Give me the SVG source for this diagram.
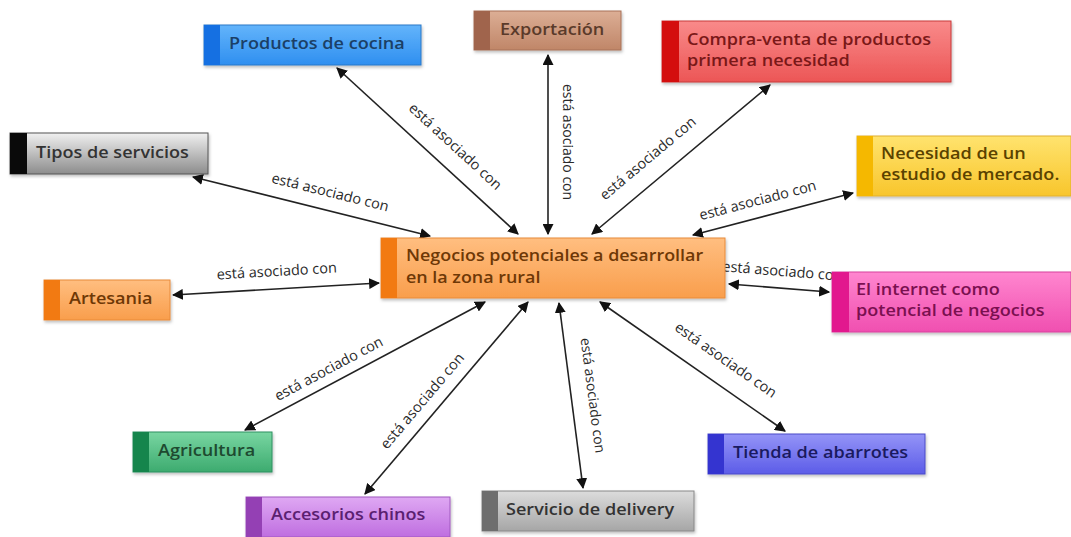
<svg xmlns="http://www.w3.org/2000/svg" width="1071" height="537" viewBox="0 0 1071 537">
  <defs>
    <marker id="arrow" viewBox="0 0 10 10" refX="9" refY="5" markerWidth="11" markerHeight="11" markerUnits="userSpaceOnUse" orient="auto-start-reverse">
      <path d="M0,0 L10,5 L0,10 z" fill="#111"/>
    </marker>
    <linearGradient id="gBlue" x1="0" y1="0" x2="0" y2="1"><stop offset="0" stop-color="#63b4fb"/><stop offset="1" stop-color="#2f8ff0"/></linearGradient>
    <linearGradient id="gBrown" x1="0" y1="0" x2="0" y2="1"><stop offset="0" stop-color="#dcae95"/><stop offset="1" stop-color="#c08668"/></linearGradient>
    <linearGradient id="gRed" x1="0" y1="0" x2="0" y2="1"><stop offset="0" stop-color="#f98a8a"/><stop offset="1" stop-color="#ec5656"/></linearGradient>
    <linearGradient id="gGray" x1="0" y1="0" x2="0" y2="1"><stop offset="0" stop-color="#f0f0f0"/><stop offset="1" stop-color="#8c8c8c"/></linearGradient>
    <linearGradient id="gYellow" x1="0" y1="0" x2="0" y2="1"><stop offset="0" stop-color="#ffe36e"/><stop offset="1" stop-color="#f8c52c"/></linearGradient>
    <linearGradient id="gOrange" x1="0" y1="0" x2="0" y2="1"><stop offset="0" stop-color="#ffbe80"/><stop offset="1" stop-color="#f99e4c"/></linearGradient>
    <linearGradient id="gPink" x1="0" y1="0" x2="0" y2="1"><stop offset="0" stop-color="#ff86cf"/><stop offset="1" stop-color="#f04fb0"/></linearGradient>
    <linearGradient id="gGreen" x1="0" y1="0" x2="0" y2="1"><stop offset="0" stop-color="#79d6a2"/><stop offset="1" stop-color="#3dab6f"/></linearGradient>
    <linearGradient id="gPurple" x1="0" y1="0" x2="0" y2="1"><stop offset="0" stop-color="#dfa8f3"/><stop offset="1" stop-color="#bf6ee0"/></linearGradient>
    <linearGradient id="gSilver" x1="0" y1="0" x2="0" y2="1"><stop offset="0" stop-color="#dcdcdc"/><stop offset="1" stop-color="#a6a6a6"/></linearGradient>
    <linearGradient id="gIndigo" x1="0" y1="0" x2="0" y2="1"><stop offset="0" stop-color="#9494f7"/><stop offset="1" stop-color="#5c5ce8"/></linearGradient>
    <filter id="shadow" x="-5%" y="-10%" width="112%" height="130%">
      <feDropShadow dx="1" dy="2" stdDeviation="1.5" flood-color="#000" flood-opacity="0.25"/>
    </filter>
  </defs>
  <style>
    .box { filter: url(#shadow); }
    .node-text { font-family: "Open Sans", "Noto Sans", sans-serif; font-weight: 600; font-size: 16px; }
    .link { stroke: #222; stroke-width: 1.6; fill: none; marker-start: url(#arrow); marker-end: url(#arrow); }
    .label { font-family: "Open Sans", "Noto Sans", sans-serif; font-size: 14.5px; fill: #2a2a2a; text-anchor: middle; }
    .label-v { font-size: 14px; }
  </style>
  <rect width="1071" height="537" fill="#ffffff"/>

  <!-- connectors (drawn first so boxes sit on top) -->
  <g id="connectors">
    <line class="link" x1="337" y1="68" x2="518" y2="234"/>
    <text class="label" transform="translate(452,150) rotate(42.5)">está asociado con</text>

    <line class="link" x1="548" y1="55" x2="548" y2="234"/>
    <text class="label label-v" transform="translate(563,142) rotate(90)">está asociado con</text>

    <line class="link" x1="770" y1="85" x2="592" y2="234"/>
    <text class="label" transform="translate(651,162) rotate(-40)">está asociado con</text>

    <line class="link" x1="193" y1="177" x2="430" y2="236"/>
    <text class="label" transform="translate(329,197) rotate(14)">está asociado con</text>

    <line class="link" x1="853" y1="193" x2="693" y2="235"/>
    <text class="label" transform="translate(759,205) rotate(-14.7)">está asociado con</text>

    <line class="link" x1="173" y1="295" x2="379" y2="283"/>
    <text class="label" transform="translate(277,276) rotate(-3.3)">está asociado con</text>

    <line class="link" x1="729" y1="284" x2="829" y2="292"/>
    <text class="label" transform="translate(782,276) rotate(4.6)">está asociado con</text>

    <line class="link" x1="245" y1="430" x2="485" y2="302"/>
    <text class="label" transform="translate(331,373) rotate(-28)">está asociado con</text>

    <line class="link" x1="365" y1="494" x2="528" y2="302"/>
    <text class="label" transform="translate(426,404) rotate(-49.7)">está asociado con</text>

    <line class="link" x1="559" y1="303" x2="583" y2="488"/>
    <text class="label label-v" transform="translate(588,396) rotate(82.6)">está asociado con</text>

    <line class="link" x1="600" y1="302" x2="785" y2="431"/>
    <text class="label" transform="translate(723,364) rotate(34.9)">está asociado con</text>
  </g>

  <!-- nodes; text is widened slightly with a horizontal scale -->
  <g id="center">
    <rect class="box" x="381" y="238" width="344" height="60" fill="url(#gOrange)" stroke="#e88a3a" stroke-width="1"/>
    <rect x="381" y="238" width="16" height="60" fill="#f27a12"/>
    <text class="node-text" transform="translate(406,261) scale(1.12,1)" fill="#6e3806">Negocios potenciales a desarrollar</text>
    <text class="node-text" transform="translate(406,283) scale(1.12,1)" fill="#6e3806">en la zona rural</text>
  </g>

  <g id="productos-cocina">
    <rect class="box" x="204" y="25" width="217" height="40" fill="url(#gBlue)" stroke="#2a78c8" stroke-width="1"/>
    <rect x="204" y="25" width="16" height="40" fill="#1570e2"/>
    <text class="node-text" transform="translate(229,49) scale(1.13,1)" fill="#1b3f66">Productos de cocina</text>
  </g>

  <g id="exportacion">
    <rect class="box" x="474" y="11" width="147" height="39" fill="url(#gBrown)" stroke="#a87058" stroke-width="1"/>
    <rect x="474" y="11" width="16" height="39" fill="#a0644c"/>
    <text class="node-text" transform="translate(500,35) scale(1.13,1)" fill="#5a3a2a">Exportación</text>
  </g>

  <g id="compra-venta">
    <rect class="box" x="662" y="21" width="289" height="61" fill="url(#gRed)" stroke="#c83a3a" stroke-width="1"/>
    <rect x="662" y="21" width="17" height="61" fill="#d40e0e"/>
    <text class="node-text" transform="translate(687,45) scale(1.13,1)" fill="#7a1818">Compra-venta de productos</text>
    <text class="node-text" transform="translate(687,66) scale(1.13,1)" fill="#7a1818">primera necesidad</text>
  </g>

  <g id="tipos-servicios">
    <rect class="box" x="10" y="133" width="198" height="41" fill="url(#gGray)" stroke="#555" stroke-width="1"/>
    <rect x="10" y="133" width="17" height="41" fill="#0a0a0a"/>
    <text class="node-text" transform="translate(36,158) scale(1.13,1)" fill="#333">Tipos de servicios</text>
  </g>

  <g id="estudio-mercado">
    <rect class="box" x="857" y="136" width="214" height="60" fill="url(#gYellow)" stroke="#e0b030" stroke-width="1"/>
    <rect x="857" y="136" width="16" height="60" fill="#f5b800"/>
    <text class="node-text" transform="translate(881,159) scale(1.13,1)" fill="#5a4200">Necesidad de un</text>
    <text class="node-text" transform="translate(881,180) scale(1.13,1)" fill="#5a4200">estudio de mercado.</text>
  </g>

  <g id="artesania">
    <rect class="box" x="44" y="280" width="126" height="40" fill="url(#gOrange)" stroke="#e88a3a" stroke-width="1"/>
    <rect x="44" y="280" width="16" height="40" fill="#f27a12"/>
    <text class="node-text" transform="translate(69,304) scale(1.13,1)" fill="#6e3806">Artesania</text>
  </g>

  <g id="internet">
    <rect class="box" x="832" y="272" width="239" height="60" fill="url(#gPink)" stroke="#d8409e" stroke-width="1"/>
    <rect x="832" y="272" width="17" height="60" fill="#e2188e"/>
    <text class="node-text" transform="translate(856,295) scale(1.13,1)" fill="#7a1050">El internet como</text>
    <text class="node-text" transform="translate(856,316) scale(1.13,1)" fill="#7a1050">potencial de negocios</text>
  </g>

  <g id="agricultura">
    <rect class="box" x="133" y="432" width="139" height="40" fill="url(#gGreen)" stroke="#2f9060" stroke-width="1"/>
    <rect x="133" y="432" width="16" height="40" fill="#15854c"/>
    <text class="node-text" transform="translate(158,456) scale(1.13,1)" fill="#1e4a30">Agricultura</text>
  </g>

  <g id="accesorios-chinos">
    <rect class="box" x="246" y="497" width="204" height="40" fill="url(#gPurple)" stroke="#a058c0" stroke-width="1"/>
    <rect x="246" y="497" width="16" height="40" fill="#9440b4"/>
    <text class="node-text" transform="translate(271,520) scale(1.13,1)" fill="#5a2070">Accesorios chinos</text>
  </g>

  <g id="servicio-delivery">
    <rect class="box" x="482" y="491" width="212" height="40" fill="url(#gSilver)" stroke="#888" stroke-width="1"/>
    <rect x="482" y="491" width="16" height="40" fill="#6e6e6e"/>
    <text class="node-text" transform="translate(506,515) scale(1.13,1)" fill="#333">Servicio de delivery</text>
  </g>

  <g id="tienda-abarrotes">
    <rect class="box" x="708" y="434" width="217" height="40" fill="url(#gIndigo)" stroke="#4a4ac8" stroke-width="1"/>
    <rect x="708" y="434" width="16" height="40" fill="#3434d0"/>
    <text class="node-text" transform="translate(733,458) scale(1.13,1)" fill="#1a1a60">Tienda de abarrotes</text>
  </g>
</svg>
